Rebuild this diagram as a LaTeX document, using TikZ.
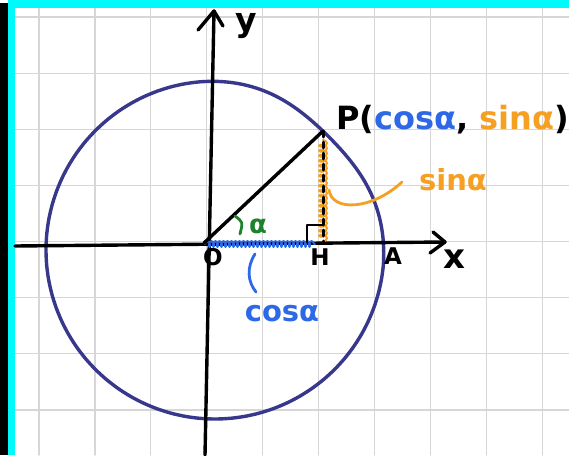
\documentclass[tikz,border=0pt]{standalone}
\usepackage{fontspec}
\setmainfont{DejaVu Sans}
\usetikzlibrary{decorations.pathmorphing}
\definecolor{circ}{RGB}{55,55,140}
\definecolor{cosblue}{RGB}{45,105,230}
\definecolor{sinorange}{RGB}{245,160,35}
\definecolor{anggreen}{RGB}{30,130,45}
\definecolor{gridgrey}{RGB}{214,214,214}
\definecolor{framecyan}{RGB}{0,250,250}
\begin{document}
\begin{tikzpicture}[x=1pt,y=-1pt,line cap=round,line join=round,
  gridline/.style={gridgrey,line width=1.2pt},
  axisline/.style={black,line width=3.4pt},
  circline/.style={circ,line width=3.4pt},
  lbl/.style={inner sep=0pt,font=\fontsize{23}{23}\selectfont\bfseries},
  midl/.style={inner sep=0pt,font=\fontsize{29}{29}\selectfont\bfseries},
  bigl/.style={inner sep=0pt,font=\fontsize{32}{32}\selectfont\bfseries},
  coswave/.style={cosblue,line width=1.8pt,decorate,decoration={coil,aspect=0.5,segment length=4pt,amplitude=3pt}},
  sinwave/.style={sinorange,line width=2pt,decorate,decoration={coil,aspect=0.5,segment length=5pt,amplitude=4pt}},
  handline/.style={line width=2.8pt}]
\useasboundingbox (0,0) rectangle (569,455);
\fill[white] (0,0) rectangle (569,455);
% grid
\foreach \i in {0,...,9} {\draw[gridline] ({39+55.9*\i},8) -- ({39+55.9*\i},455);}
\foreach \j in {0,...,7} {\draw[gridline] (15,{17+56.14*\j}) -- (569,{17+56.14*\j});}
% frame strips
\fill[black] (0,3) rectangle (8,455);
\fill[framecyan] (8,0) rectangle (15,455);
\fill[framecyan] (8,0) rectangle (569,8);
% key points
\coordinate (O) at (204,243);
\coordinate (P) at (323,131);
\coordinate (H) at (323,242);
\coordinate (Hc) at (315,244);
\coordinate (Oc) at (205,244);
\coordinate (xs) at (15,246);
\coordinate (xe) at (445,242);
\coordinate (ys) at (205,455);
\coordinate (ye) at (214,11);
% circle (hand drawn, slightly flattened near P)
\draw[circline] plot[smooth cycle,domain=0:355,samples=72,variable=\t]
  ({215+(169-8.5*exp(-((\t-45)/25)^2))*cos(\t)},{250-(169-8.5*exp(-((\t-45)/25)^2))*sin(\t)});
% axes
\draw[axisline] (xs) -- (xe);
\draw[axisline] (433,232) -- (xe) -- (430,253);
\draw[axisline] (ys) -- (ye);
\draw[axisline] (198,30) -- (ye) -- (223,26);
% cos segment
\draw[coswave] (Oc) -- (Hc);
% sin segment
\draw[sinwave] (323,140) -- (H);
\draw[black,line width=3pt,dash pattern=on 6pt off 5pt] (P) -- (H);
% radius
\draw[axisline] (O) -- (P);
% right angle
\draw[handline] (307,242) -- (307,225) -- (323,225);
% angle
\draw[anggreen,handline] (235,216) .. controls (243,222) .. (240,234);
\node[midl,text=anggreen,font=\fontsize{26}{26}\selectfont\bfseries] (alpha) at (258,226) {α};
% labels
\node[midl,font=\fontsize{33}{33}\selectfont\bfseries] (ylab) at (246,26) {y};
\node[midl,font=\fontsize{34}{34}\selectfont\bfseries] (xlab) at (454,259) {x};
\node[lbl] (Olab) at (213,257) {O};
\node[lbl] (Hlab) at (320,257) {H};
\node[lbl] (Alab) at (393,256) {A};
% cos brace
\draw[cosblue,handline] (255,254) .. controls (246,268) and (248,282) .. (256,292);
\node[midl,text=cosblue] (coslab) at (282,314) {cosα};
% sin brace
\draw[sinorange,handline] (329,190) .. controls (332,212) and (372,210) .. (402,182);
\node[midl,text=sinorange] (sinlab) at (453,180) {sinα};
% point label
\node[bigl,anchor=west] (Plab) at (336,120) {P(\textcolor{cosblue}{cosα}, \textcolor{sinorange}{sinα})};
\end{tikzpicture}
\end{document}
